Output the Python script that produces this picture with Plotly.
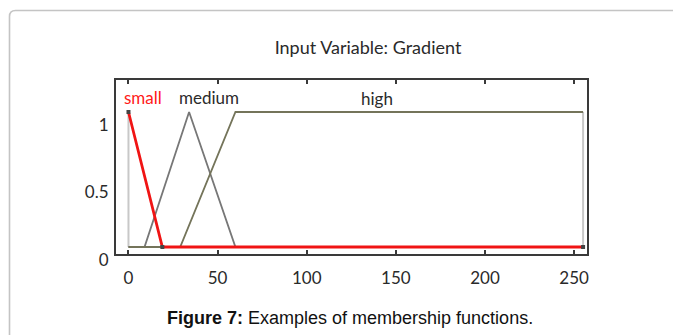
import plotly.graph_objects as go

# Membership functions of the input variable "Gradient" (universe 0..255)
small_x = [0, 19, 255]
small_y = [1, 0, 0]
medium_x = [0, 9, 34, 60, 255]
medium_y = [0, 0, 1, 0, 0]
high_x = [0, 29, 60, 255]
high_y = [0, 0, 1, 1]
bounds_left_x = [0, 0]
bounds_right_x = [255, 255]
bounds_y = [0, 1]

mf_names = ["small", "medium", "high"]
mf_label_x = [8, 45, 139.5]
mf_label_y = [1.11, 1.11, 1.10]
mf_label_colors = ["#ff1a1a", "#2b2b2b", "#2b2b2b"]

x_tickvals = [0, 50, 100, 150, 200, 250]
y_tickvals = [0, 0.5, 1]
y_ticktext = ["0", "0.5", "1"]

OFF = 8  # the page body has an 8px margin
FIG_W, FIG_H = 681 - OFF, 335 - OFF

fig = go.Figure()
fig.add_trace(go.Scatter(x=bounds_left_x, y=bounds_y, mode="lines",
                         line=dict(color="#c8c8c8", width=2), hoverinfo="skip"))
fig.add_trace(go.Scatter(x=bounds_right_x, y=bounds_y, mode="lines",
                         line=dict(color="#c8c8c8", width=2), hoverinfo="skip"))
fig.add_trace(go.Scatter(x=medium_x, y=medium_y, mode="lines",
                         line=dict(color="#777777", width=1.8), name="medium"))
fig.add_trace(go.Scatter(x=high_x, y=high_y, mode="lines",
                         line=dict(color="#74745a", width=1.8), name="high"))
fig.add_trace(go.Scatter(x=small_x, y=small_y, mode="lines+markers",
                         line=dict(color="#f01414", width=2.8),
                         marker=dict(color="#444444", size=4, symbol="square"),
                         name="small"))

for name, lx, ly, c in zip(mf_names, mf_label_x, mf_label_y, mf_label_colors):
    fig.add_annotation(x=lx, y=ly, xref="x", yref="y", text=name, showarrow=False,
                       font=dict(family="Lato", size=17, color=c),
                       xanchor="center", yanchor="middle")

fig.add_annotation(x=0.497, y=-0.368, xref="paper", yref="paper",
                   text="<b>Figure 7:</b> Examples of membership functions.",
                   showarrow=False, xanchor="center", yanchor="middle",
                   font=dict(family="Liberation Sans", size=18, color="#111111"))

# Rounded frame around the figure (page-pixel positions converted to paper units)
W, H = 471.0, 174.0
def px(x):
    return (x - 116) / W
def py(y):
    return (254 - y) / H
r = 6
path = (f"M {px(9.5)} {py(345)} L {px(9.5)} {py(10.5 + r)} "
        f"Q {px(9.5)} {py(10.5)} {px(9.5 + r)} {py(10.5)} L {px(700)} {py(10.5)}")
fig.add_shape(type="path", path=path, xref="paper", yref="paper",
              line=dict(color="#c4c4c4", width=1.6), layer="below")

fig.update_layout(
    width=FIG_W, height=FIG_H,
    margin=dict(l=116 - OFF, r=94, t=80 - OFF, b=81),
    paper_bgcolor="white", plot_bgcolor="white",
    showlegend=False,
    title=dict(text="Input Variable: Gradient", x=(368 - OFF) / FIG_W, y=1 - (48 - OFF) / FIG_H,
               xref="container", yref="container", xanchor="center", yanchor="middle",
               font=dict(family="Lato", size=18, color="#2a2a2a")),
)
fig.update_xaxes(range=[-7.0, 257.2], tickvals=x_tickvals, showgrid=False, zeroline=False,
                 showline=True, linecolor="#3a3a3a", linewidth=2, mirror="ticks",
                 ticks="inside", ticklen=4, tickcolor="#3a3a3a", tickwidth=1.5,
                 ticklabelstandoff=8,
                 tickfont=dict(family="Lato", size=17, color="#2a2a2a"))
fig.update_yaxes(range=[-0.052, 1.237], tickvals=y_tickvals, ticktext=y_ticktext,
                 showgrid=False, zeroline=False,
                 showline=True, linecolor="#3a3a3a", linewidth=2, mirror=True,
                 ticks="", ticklabelshift=13, ticklabelstandoff=2,
                 tickfont=dict(family="Lato", size=17, color="#2a2a2a"))

fig.write_html("out.html")
